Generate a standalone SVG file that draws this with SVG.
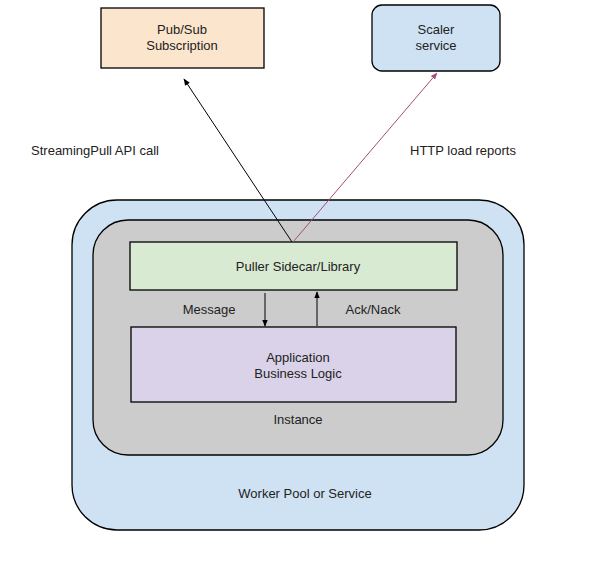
<svg xmlns="http://www.w3.org/2000/svg" width="611" height="563" viewBox="0 0 611 563">
<style>
text{font-family:"Liberation Sans",Arial,sans-serif;font-size:13px;fill:#222;text-anchor:middle}
.b{stroke:#000;stroke-width:1.3}
</style>
<defs>
<marker id="ak" viewBox="0 0 10 10" refX="9" refY="5" markerWidth="7" markerHeight="7" orient="auto-start-reverse" markerUnits="userSpaceOnUse"><path d="M0,1 L10,5 L0,9 z" fill="#000"/></marker>
<marker id="ar" viewBox="0 0 10 10" refX="9" refY="5" markerWidth="7" markerHeight="7" orient="auto-start-reverse" markerUnits="userSpaceOnUse"><path d="M0,1 L10,5 L0,9 z" fill="#a64d79"/></marker>
</defs>
<rect width="611" height="563" fill="#fff"/>
<g id="worker-pool"><rect class="b" x="72" y="200" width="452" height="330" rx="45" fill="#cfe2f3"/><text x="305" y="498">Worker Pool or Service</text></g>
<g id="instance"><rect class="b" x="93" y="220" width="410" height="235" rx="35" fill="#cccccc"/><text x="298" y="424">Instance</text></g>
<g id="puller"><rect class="b" x="130" y="242" width="327" height="48" fill="#d9ead3"/><text x="298" y="271">Puller Sidecar/Library</text></g>
<g id="app"><rect class="b" x="131" y="327" width="325" height="75" fill="#d9d2e9"/><text x="298" y="362">Application</text><text x="298" y="378">Business Logic</text></g>
<g id="pubsub"><rect class="b" x="101" y="8" width="163" height="60" fill="#fce5cd"/><text x="182" y="34">Pub/Sub</text><text x="182" y="50">Subscription</text></g>
<g id="scaler"><rect class="b" x="372" y="5" width="128" height="66" rx="10" fill="#cfe2f3"/><text x="436" y="34">Scaler</text><text x="436" y="50">service</text></g>
<g id="connectors">
<line x1="292" y1="242" x2="184" y2="79" stroke="#000" stroke-width="1" marker-end="url(#ak)"/>
<line x1="293" y1="242" x2="437" y2="73" stroke="#a64d79" stroke-width="1" marker-end="url(#ar)"/>
<line x1="265" y1="293" x2="265" y2="326" stroke="#000" stroke-width="1" marker-end="url(#ak)"/>
<line x1="317" y1="326" x2="317" y2="292" stroke="#000" stroke-width="1" marker-end="url(#ak)"/>
</g>
<g id="labels">
<text x="95" y="155">StreamingPull API call</text>
<text x="463" y="155">HTTP load reports</text>
<text x="209" y="314">Message</text>
<text x="373" y="314">Ack/Nack</text>
</g>
</svg>
